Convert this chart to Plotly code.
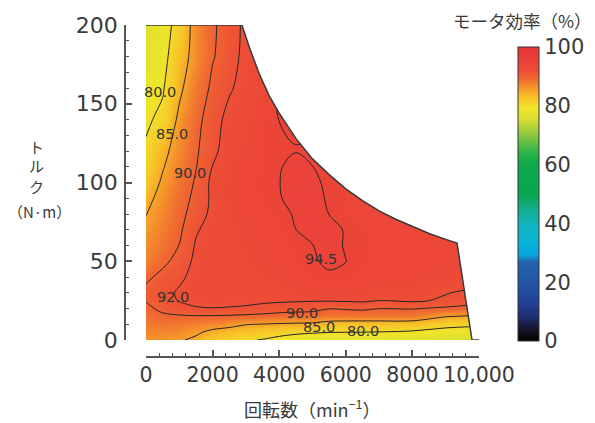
import plotly.graph_objects as go

# ---- data ----
speeds = [0, 500, 1000, 1500, 2000, 2500, 3000, 3500, 4000, 4500,
          5000, 5500, 6000, 6500, 7000, 8000, 9000, 10000]          # min^-1
torques = [0, 5, 10, 15, 20, 25, 30, 40, 50, 60, 70, 80, 90, 100,
           110, 120, 140, 160, 180, 200]                           # N·m

eff_t000 = [86.2, 86.0, 85.4, 84.2, 82.0, 81.2, 80.4, 79.8, 78.8, 77.9, 77.5, 77.2, 77.0, 77.0, 77.0, 76.8, 76.0, 75.8]
eff_t005 = [87.0, 87.2, 86.7, 85.7, 84.0, 83.3, 82.5, 82.0, 81.4, 80.8, 80.4, 80.1, 80.05, 80.02, 79.9, 79.5, 78.5, 78.1]
eff_t010 = [87.8, 88.3, 88.0, 87.5, 87.0, 86.2, 85.2, 84.9, 84.6, 84.4, 84.2, 83.2, 82.8, 82.8, 82.8, 82.7, 81.3, 80.7]
eff_t015 = [88.6, 89.5, 89.7, 89.8, 89.8, 89.7, 89.5, 89.3, 88.9, 88.7, 88.6, 87.9, 88.1, 88.0, 88.0, 88.0, 85.2, 84.4]
eff_t020 = [89.4, 90.6, 91.4, 91.9, 91.95, 91.9, 91.8, 91.5, 91.3, 91.1, 90.9, 90.1, 90.3, 90.5, 90.05, 90.15, 89.6, 89.0]
eff_t025 = [90.1, 91.3, 92.1, 92.3, 92.5, 92.4, 92.35, 92.3, 92.2, 92.15, 92.1, 92.15, 92.2, 92.3, 91.95, 92.3, 91.7, 90.9]
eff_t030 = [90.8, 91.5, 92.2, 92.6, 92.8, 92.9, 93.0, 93.1, 93.2, 93.3, 93.4, 93.5, 93.5, 93.4, 92.9, 93.1, 92.1, 91.5]
eff_t040 = [89.4, 90.8, 91.7, 92.5, 92.9, 93.1, 93.2, 93.3, 93.5, 93.8, 94.1, 94.3, 94.2, 93.9, 93.8, 93.6, 93.5, 93.1]
eff_t050 = [87.4, 89.3, 91.0, 92.4, 93.0, 93.2, 93.3, 93.5, 93.7, 94.0, 94.35, 94.75, 94.52, 94.1, 93.9, 93.7, 93.6, 93.4]
eff_t060 = [86.6, 88.4, 90.05, 92.2, 92.9, 93.2, 93.4, 93.6, 93.8, 94.2, 94.47, 94.9, 94.4, 94.1, 93.9, 93.7, 93.6, 93.4]
eff_t070 = [85.8, 87.8, 89.6, 91.8, 92.7, 93.2, 93.5, 93.7, 93.9, 94.49, 94.9, 94.9, 94.4, 94.1, 93.9, 93.7, 93.6, 93.4]
eff_t080 = [84.9, 87.1, 89.3, 91.0, 92.5, 93.3, 93.7, 93.9, 94.1, 94.65, 95.0, 94.48, 94.0, 93.8, 93.7, 93.6, 93.5, 93.3]
eff_t090 = [83.8, 86.4, 88.9, 90.6, 92.4, 93.4, 93.8, 94.1, 94.42, 94.9, 95.0, 94.3, 94.0, 93.9, 93.8, 93.7, 93.6, 93.4]
eff_t100 = [82.3, 85.6, 88.3, 90.3, 92.5, 93.4, 93.8, 94.2, 94.47, 95.0, 94.8, 94.2, 93.9, 93.8, 93.7, 93.6, 93.5, 93.3]
eff_t110 = [81.2, 84.7, 87.5, 89.9, 92.05, 93.2, 93.7, 94.1, 94.4, 94.9, 94.51, 94.0, 93.9, 93.8, 93.7, 93.6, 93.5, 93.3]
eff_t120 = [80.5, 83.9, 86.8, 89.7, 91.5, 93.0, 93.6, 94.0, 94.2, 94.45, 94.35, 94.0, 93.9, 93.8, 93.7, 93.6, 93.5, 93.3]
eff_t140 = [79.4, 80.9, 85.9, 89.2, 91.3, 92.5, 93.0, 94.0, 94.52, 94.7, 94.6, 94.4, 94.3, 94.2, 94.0, 93.8, 93.6, 93.4]
eff_t160 = [78.2, 79.6, 84.1, 88.0, 90.6, 91.8, 92.6, 93.3, 94.6, 94.8, 94.6, 94.4, 94.3, 94.2, 94.0, 93.8, 93.6, 93.4]
eff_t180 = [77.5, 78.6, 82.9, 86.6, 89.8, 91.3, 92.5, 93.1, 93.7, 94.2, 94.4, 94.4, 94.3, 94.2, 94.0, 93.8, 93.6, 93.4]
eff_t200 = [77.0, 78.5, 81.3, 86.9, 89.6, 91.2, 92.4, 93.0, 93.5, 94.0, 94.2, 94.2, 94.1, 94.0, 93.9, 93.7, 93.5, 93.3]

efficiency = [eff_t000, eff_t005, eff_t010, eff_t015, eff_t020, eff_t025, eff_t030,
              eff_t040, eff_t050, eff_t060, eff_t070, eff_t080, eff_t090, eff_t100,
              eff_t110, eff_t120, eff_t140, eff_t160, eff_t180, eff_t200]

# maximum torque envelope
env_speed = [0, 2880, 3100, 3400, 3700, 4000, 4500, 5000, 5500, 6000, 6500,
             7000, 7500, 8000, 8500, 9000, 9340, 9790, 10000]
env_torque = [200, 200, 186, 169, 155, 144, 128, 115, 105, 96, 88.5,
              82, 76.7, 72, 67.6, 63.9, 61.6, 0, 0]

contour_levels = [80.0, 85.0, 90.0, 92.0, 94.5]

label_text = ["80.0", "85.0", "90.0", "92.0", "94.5", "90.0", "85.0", "80.0"]
label_speed = [420, 780, 1320, 800, 5250, 4680, 5200, 6520]
label_torque = [157.5, 131, 106, 27.3, 51.4, 17.1, 8.3, 5.7]

x_ticks = [0, 2000, 4000, 6000, 8000, 10000]
x_ticktext = ["0", "2000", "4000", "6000", "8000", "10,000"]
y_ticks = [0, 50, 100, 150, 200]
cbar_ticks = [0, 20, 40, 60, 80, 100]

y_title_parts = ["ト", "ル", "ク", "（N·m）"]

# ---- styling ----
colorscale = [
    [0.00, "#000000"], [0.04, "#15152c"], [0.08, "#1f2c6a"], [0.12, "#213f92"],
    [0.20, "#2456a6"], [0.27, "#2263ae"], [0.29, "#0b9fdc"], [0.33, "#07b4d8"],
    [0.40, "#13b5bd"], [0.46, "#12aa80"], [0.50, "#0aa650"], [0.60, "#0da94b"],
    [0.64, "#2fb34a"], [0.70, "#8cc63f"], [0.75, "#d2dc33"], [0.79, "#efe52b"],
    [0.83, "#f8c027"], [0.86, "#f5962b"], [0.89, "#f06a31"], [0.92, "#ed4f36"],
    [0.95, "#eb4139"], [1.00, "#e8343a"],
]
TXT = "#3a3a3a"
AX = "#555555"
NUMFONT = "DejaVu Sans"
JPFONT = "Noto Sans CJK JP"

# the page body adds an 8 px offset; the figure is sized to fit the window
OFF = 8
W, H = 595 - OFF, 423 - OFF
ML, MR, MT, MB = 125 - OFF, 116, 25 - OFF, 66
PW, PH = W - ML - MR, H - MT - MB


def px_x(p):
    """screen pixel x -> paper fraction"""
    return (p - OFF - ML) / PW


def px_y(p):
    """screen pixel y -> paper fraction"""
    return (H - MB - (p - OFF)) / PH


fig = go.Figure()

fig.add_trace(go.Heatmap(
    x=speeds, y=torques, z=efficiency, zmin=0, zmax=100,
    zsmooth="best", colorscale=colorscale, hoverinfo="skip",
    colorbar=dict(
        x=px_x(518), xanchor="left", xpad=0,
        y=px_y(47), yanchor="top", ypad=0,
        lenmode="pixels", len=294, thicknessmode="pixels", thickness=21,
        outlinewidth=1, outlinecolor="#333333",
        tickmode="array", tickvals=cbar_ticks, ticks="",
        tickfont=dict(family=NUMFONT, size=21, color=TXT),
    ),
))

for lvl in contour_levels:
    fig.add_trace(go.Contour(
        x=speeds, y=torques, z=efficiency, autocontour=False,
        contours=dict(start=lvl, end=lvl, size=1, coloring="none", showlabels=False),
        line=dict(color="#262626", width=1, smoothing=1),
        showscale=False, hoverinfo="skip",
    ))

# white mask outside the torque envelope
mask_x = env_speed[1:] + [10600, 10600]
mask_y = env_torque[1:] + [0, 215]
fig.add_trace(go.Scatter(
    x=mask_x, y=mask_y, mode="lines", fill="toself", fillcolor="white",
    line=dict(width=0, color="white"), hoverinfo="skip", showlegend=False,
))
fig.add_trace(go.Scatter(
    x=env_speed, y=env_torque, mode="lines",
    line=dict(color="#3a3a3a", width=1.5), hoverinfo="skip", showlegend=False,
))

annotations = []
for t, sx, ty in zip(label_text, label_speed, label_torque):
    annotations.append(dict(
        x=sx, y=ty, xref="x", yref="y", text=t, showarrow=False,
        xanchor="center", yanchor="middle",
        font=dict(family=NUMFONT, size=14.5, color="#333333"),
    ))

annotations += [
    dict(x=px_x(522), y=px_y(20), xref="paper", yref="paper",
         text="モータ効率（%）", showarrow=False, xanchor="center", yanchor="middle",
         font=dict(family=JPFONT, size=17.5, color=TXT)),
    dict(x=px_x(312), y=px_y(408), xref="paper", yref="paper",
         text="回転数（min<sup>−1</sup>）", showarrow=False,
         xanchor="center", yanchor="middle",
         font=dict(family=JPFONT, size=18, color=TXT)),
]
y_title_px = [(36, 146), (36, 166), (36, 186), (39, 211)]
for part, (tx, ty) in zip(y_title_parts, y_title_px):
    annotations.append(dict(
        x=px_x(tx), y=px_y(ty), xref="paper", yref="paper", text=part,
        showarrow=False, xanchor="center", yanchor="middle",
        font=dict(family=JPFONT, size=15, color=TXT)))

fig.update_layout(
    width=W, height=H,
    margin=dict(l=ML, r=MR, t=MT, b=MB, pad=0, autoexpand=False),
    paper_bgcolor="white", plot_bgcolor="white",
    showlegend=False,
    annotations=annotations,
    xaxis=dict(
        domain=[px_x(146), 1], range=[0, 10000], anchor="free", position=0,
        showgrid=False, zeroline=False, automargin=False,
        showline=True, linecolor=AX, linewidth=1.5,
        ticks="inside", ticklen=6, tickwidth=1.5, tickcolor=AX,
        tickmode="array", tickvals=x_ticks, ticktext=x_ticktext,
        tickfont=dict(family=NUMFONT, size=20.5, color=TXT),
        minor=dict(tickmode="linear", tick0=0, dtick=400, ticks="inside",
                   ticklen=3, tickwidth=1, tickcolor=AX, showgrid=False),
    ),
    yaxis=dict(
        domain=[px_y(340), 1], range=[0, 200], anchor="free", position=0,
        showgrid=False, zeroline=False, automargin=False,
        showline=True, linecolor=AX, linewidth=1.5,
        ticks="inside", ticklen=6, tickwidth=1.5, tickcolor=AX,
        tickmode="array", tickvals=y_ticks, ticklabelstandoff=2,
        tickfont=dict(family=NUMFONT, size=22, color=TXT),
        minor=dict(tickmode="linear", tick0=0, dtick=10, ticks="inside",
                   ticklen=3, tickwidth=1, tickcolor=AX, showgrid=False),
    ),
)

fig.write_html("out.html")
